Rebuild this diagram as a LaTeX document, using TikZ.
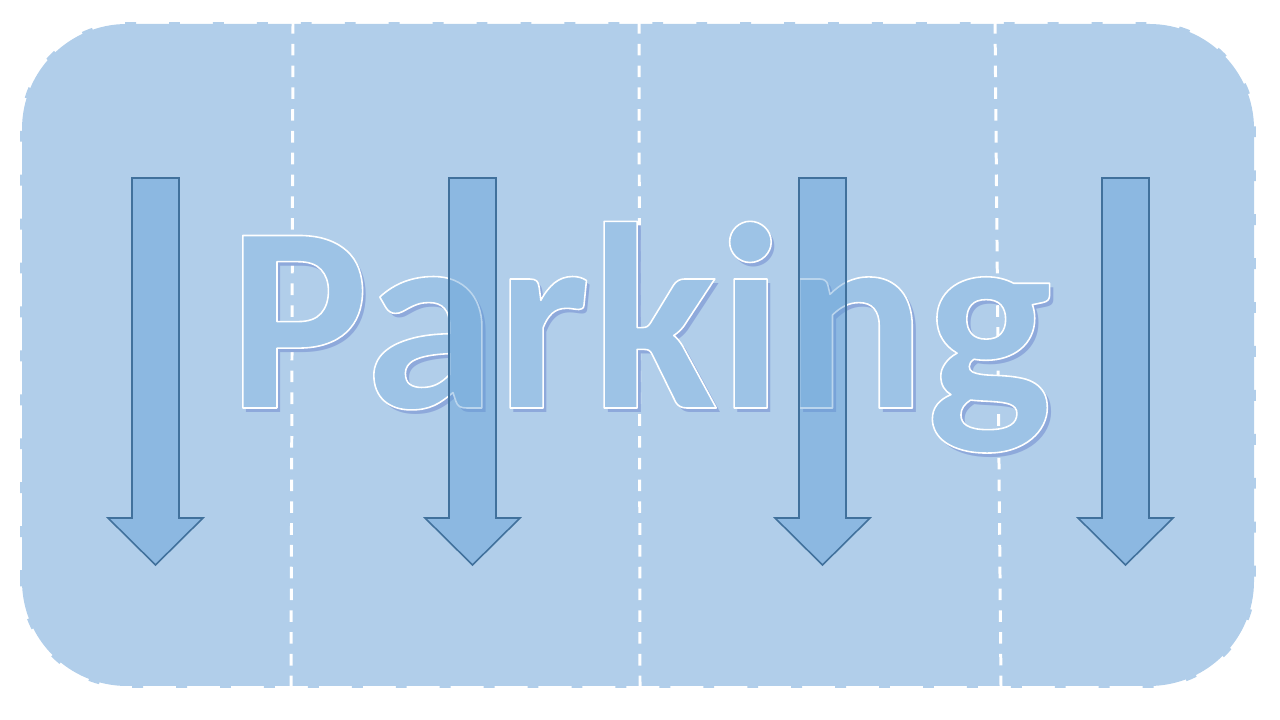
\documentclass[tikz,border=0pt]{standalone}
\usepackage{fontspec}
\newfontfamily\parkfont{Carlito}
\usetikzlibrary{calc}
\definecolor{lotfill}{HTML}{B1CEEA}
\definecolor{arrowfill}{HTML}{5B9BD5}
\definecolor{arrowline}{HTML}{41719C}
\definecolor{wordfill}{HTML}{9DC3E6}
\definecolor{wordshade}{HTML}{8EA9DB}
\newcommand{\wordstroke}{\special{pdf:literal direct 1 1 1 RG 0.45 w 1 j 2 Tr}}
\newcommand{\wordnostroke}{\special{pdf:literal direct 0 Tr}}

\begin{document}
\begin{tikzpicture}[
  lot/.style       = {fill=lotfill, draw=lotfill, line width=1.1pt,
                      dash pattern=on 3.1pt off 9.4pt, rounded corners=1.05cm},
  lane/.style      = {draw=white, line width=0.85pt, dash pattern=on 3.3pt off 2.9pt},
  downarrow/.style = {fill=arrowfill, fill opacity=0.42, draw=arrowline,
                      line width=0.45pt, line join=miter},
  word/.style      = {font=\parkfont\bfseries\fontsize{75.7}{80}\selectfont,
                      inner sep=0pt, anchor=base},
]
\useasboundingbox (0,0) rectangle (12.8,7.2);

%% Parking lot
\draw[lot] (0.22,0.34) rectangle (12.54,6.96);

%% Lane separators
\coordinate (laneAtop) at (2.93,6.98);  \coordinate (laneAbot) at (2.91,0.32);
\coordinate (laneBtop) at (6.39,6.98);  \coordinate (laneBbot) at (6.40,0.32);
\coordinate (laneCtop) at (9.95,6.98);  \coordinate (laneCbot) at (10.01,0.32);
\foreach \l in {A,B,C}
  \draw[lane] (lane\l top) -- (lane\l bot);

%% Title with shadow
\node[word, text=wordshade] (wordshadow) at (6.44,3.07) {Parking};
\node[word, text=wordfill]  (word)       at (6.40,3.12) {\wordstroke Parking\wordnostroke};

%% Driving direction arrows
\foreach \cx in {1.555, 4.725, 8.225, 11.255}
  \draw[downarrow] (\cx-0.235,5.42) -- (\cx+0.235,5.42) -- (\cx+0.235,2.02)
                   -- (\cx+0.475,2.02) -- (\cx,1.55) -- (\cx-0.475,2.02)
                   -- (\cx-0.235,2.02) -- cycle;

\end{tikzpicture}
\end{document}
